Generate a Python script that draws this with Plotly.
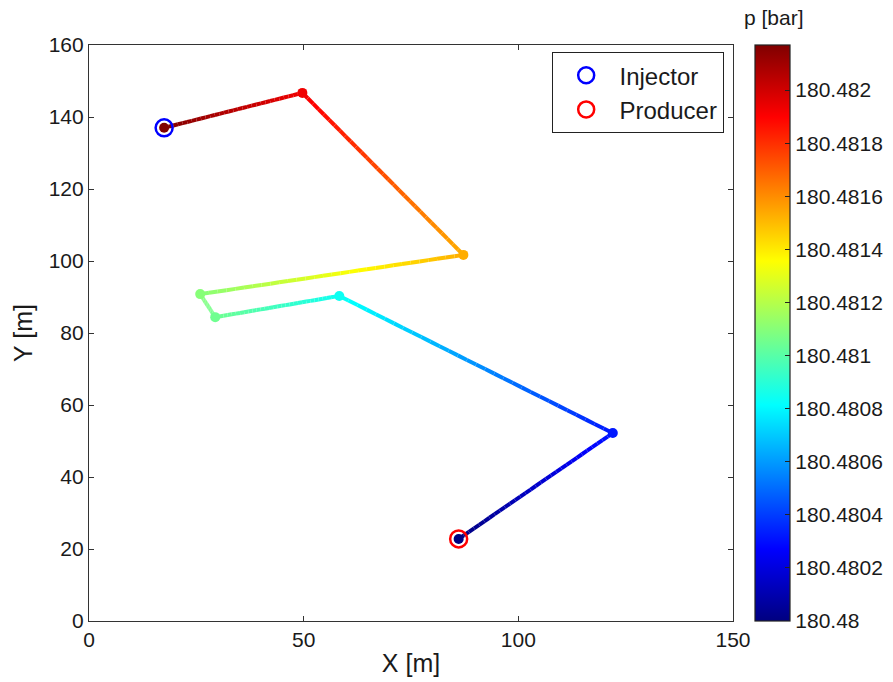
import plotly.graph_objects as go
from plotly.colors import sample_colorscale

# ---- data ----
well_x = [17.5, 49.7, 87.2, 25.9, 29.4, 58.3, 122.0, 86.1]
well_y = [137.0, 146.7, 101.7, 90.8, 84.4, 90.3, 52.2, 22.8]
pressure = [180.48217, 180.48193, 180.48153, 180.48110, 180.48105,
            180.48084, 180.48032, 180.48000]
injector = (17.5, 137.0)
producer = (86.1, 22.8)
cb_ticks = [180.48 + 0.0002 * i for i in range(11)]
cb_ticktext = ["180.48", "180.4802", "180.4804", "180.4806", "180.4808",
               "180.481", "180.4812", "180.4814", "180.4816", "180.4818", "180.482"]
x_ticks = [0, 50, 100, 150]
y_ticks = [0, 20, 40, 60, 80, 100, 120, 140, 160]

# ---- style ----
jet = [[0.0, "rgb(0,0,128)"], [0.125, "rgb(0,0,255)"], [0.375, "rgb(0,255,255)"],
       [0.625, "rgb(255,255,0)"], [0.875, "rgb(255,0,0)"], [1.0, "rgb(128,0,0)"]]
pmin, pmax = 180.48, 180.48217
FONT = "Liberation Sans, Arial, sans-serif"
TXT = "#1a1a1a"

fig = go.Figure()

# gradient-coloured path: each segment rendered as short pieces
NSUB = 30
for i in range(len(well_x) - 1):
    for k in range(NSUB):
        t0, t1 = k / NSUB, (k + 1) / NSUB
        xa = well_x[i] + (well_x[i + 1] - well_x[i]) * t0
        xb = well_x[i] + (well_x[i + 1] - well_x[i]) * t1
        ya = well_y[i] + (well_y[i + 1] - well_y[i]) * t0
        yb = well_y[i] + (well_y[i + 1] - well_y[i]) * t1
        pm = pressure[i] + (pressure[i + 1] - pressure[i]) * (t0 + t1) / 2
        frac = min(max((pm - pmin) / (pmax - pmin), 0), 1)
        col = sample_colorscale(jet, [frac])[0]
        fig.add_trace(go.Scatter(x=[xa, xb], y=[ya, yb], mode="lines",
                                 line=dict(color=col, width=4),
                                 showlegend=False, hoverinfo="skip"))

# vertices with colorbar
fig.add_trace(go.Scatter(
    x=well_x, y=well_y, mode="markers", showlegend=False,
    marker=dict(size=10, color=pressure, colorscale=jet, cmin=pmin, cmax=pmax,
                showscale=True,
                colorbar=dict(
                    x=1.034, xanchor="left", xpad=0, ypad=0,
                    y=0.5, yanchor="middle", len=1.0, lenmode="fraction",
                    thickness=35, outlinecolor="#222", outlinewidth=1.2,
                    tickvals=cb_ticks, ticktext=cb_ticktext,
                    ticks="inside", ticklen=5, tickcolor="#222",
                    tickfont=dict(family=FONT, size=21, color=TXT),
                ))))

fig.add_trace(go.Scatter(x=[injector[0]], y=[injector[1]], mode="markers",
                         name="  Injector",
                         marker=dict(symbol="circle-open", size=17, color="#0000ff",
                                     line=dict(width=2.5, color="#0000ff"))))
fig.add_trace(go.Scatter(x=[producer[0]], y=[producer[1]], mode="markers",
                         name="  Producer",
                         marker=dict(symbol="circle-open", size=17, color="#ff0000",
                                     line=dict(width=2.5, color="#ff0000"))))

axis_common = dict(showgrid=False, zeroline=False, showline=True, linecolor="#333",
                   linewidth=1.2, mirror="ticks", ticks="inside", ticklen=5,
                   tickcolor="#333", tickfont=dict(family=FONT, size=21, color=TXT),
                   automargin=False)

fig.update_layout(
    width=893, height=682,
    margin=dict(l=89, r=160, t=45, b=61, autoexpand=False),
    plot_bgcolor="white", paper_bgcolor="white",
    font=dict(family=FONT, color=TXT),
    xaxis=dict(range=[0, 150], tickvals=x_ticks,
               title=dict(text="X [m]", font=dict(family=FONT, size=25, color=TXT), standoff=4),
               **axis_common),
    yaxis=dict(range=[0, 160], tickvals=y_ticks,
               title=dict(text="Y [m]", font=dict(family=FONT, size=25, color=TXT), standoff=8),
               **axis_common),
    legend=dict(x=0.986, xanchor="right", y=0.988, yanchor="top",
                bgcolor="white", bordercolor="#222", borderwidth=1.2,
                font=dict(family=FONT, size=24, color=TXT),
                indentation=13, tracegroupgap=0),
    annotations=[dict(text="p [bar]", xref="paper", yref="paper",
                      x=1.014, y=1.047, xanchor="left", yanchor="middle",
                      showarrow=False, font=dict(family=FONT, size=21, color=TXT))],
)

fig.write_html("out.html")
